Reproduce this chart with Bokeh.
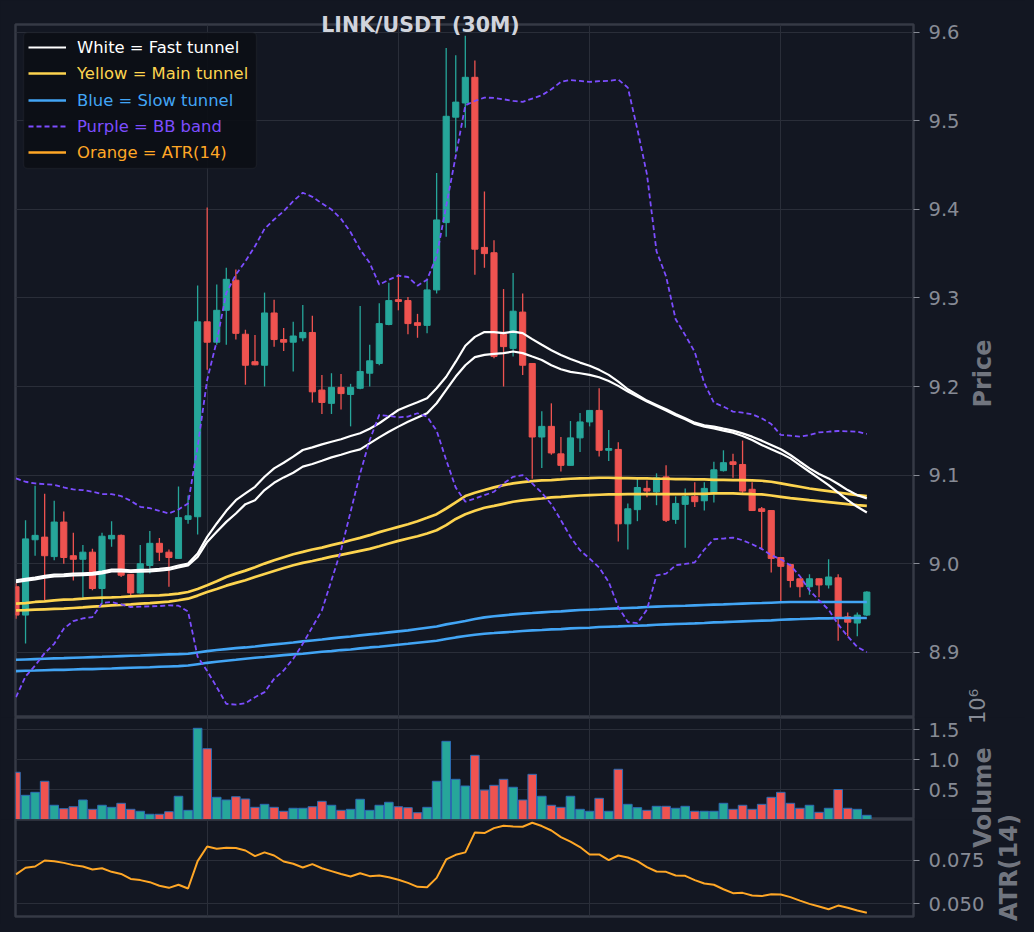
import math
from bokeh.plotting import figure
from bokeh.layouts import column
from bokeh.models import (ColumnDataSource, Range1d, FixedTicker, PrintfTickFormatter,
                          Legend, LegendItem, BoxAnnotation, Label)
from bokeh.embed import file_html
from bokeh.resources import INLINE

# ---------------- data ----------------
bar_index = list(range(90))

opens = [8.974, 8.942, 9.027, 9.030, 9.008, 9.047, 9.009, 9.005, 9.013, 8.972,
         9.028, 9.032, 8.988, 8.967, 8.998, 9.023, 9.013, 9.006, 9.050, 9.053,
         9.273, 9.250, 9.286, 9.320, 9.259, 9.228, 9.224, 9.283, 9.253, 9.250,
         9.255, 9.261, 9.196, 9.181, 9.199, 9.191, 9.198, 9.215, 9.226, 9.270,
         9.298, 9.297, 9.272, 9.269, 9.309, 9.385, 9.504, 9.520, 9.549, 9.357,
         9.351, 9.259, 9.243, 9.284, 9.226, 9.143, 9.155, 9.124, 9.111, 9.142,
         9.160, 9.173, 9.128, 9.129, 9.045, 9.061, 9.085, 9.081, 9.098, 9.050,
         9.067, 9.076, 9.071, 9.079, 9.105, 9.115, 9.112, 9.084, 9.062, 9.060,
         9.007, 8.999, 8.983, 8.974, 8.983, 8.976, 8.984, 8.940, 8.933, 8.942]
highs = [8.978, 9.049, 9.088, 9.079, 9.071, 9.059, 9.035, 9.021, 9.017, 9.035,
         9.048, 9.033, 8.988, 9.021, 9.037, 9.029, 9.016, 9.087, 9.077, 9.314,
         9.402, 9.315, 9.334, 9.332, 9.264, 9.258, 9.306, 9.298, 9.266, 9.273,
         9.292, 9.280, 9.213, 9.215, 9.214, 9.203, 9.291, 9.247, 9.294, 9.317,
         9.327, 9.301, 9.282, 9.321, 9.441, 9.582, 9.574, 9.596, 9.568, 9.420,
         9.365, 9.310, 9.328, 9.305, 9.226, 9.172, 9.181, 9.143, 9.161, 9.170,
         9.173, 9.198, 9.151, 9.137, 9.068, 9.096, 9.094, 9.102, 9.111, 9.076,
         9.085, 9.092, 9.092, 9.115, 9.128, 9.124, 9.139, 9.092, 9.064, 9.060,
         9.007, 9.000, 8.983, 8.988, 8.983, 9.005, 8.988, 8.945, 8.945, 8.969]
lows = [8.938, 8.910, 9.009, 8.959, 9.004, 9.000, 8.981, 8.959, 8.970, 8.955,
        9.019, 8.985, 8.962, 8.966, 8.989, 9.003, 8.974, 9.006, 9.045, 9.033,
        9.219, 9.247, 9.247, 9.253, 9.202, 9.224, 9.200, 9.245, 9.240, 9.217,
        9.251, 9.182, 9.169, 9.169, 9.174, 9.155, 9.197, 9.200, 9.224, 9.269,
        9.286, 9.259, 9.255, 9.260, 9.305, 9.369, 9.464, 9.492, 9.326, 9.334,
        9.232, 9.200, 9.234, 9.213, 9.096, 9.108, 9.123, 9.104, 9.111, 9.126,
        9.155, 9.121, 9.116, 9.025, 9.016, 9.048, 9.075, 9.066, 9.047, 9.045,
        9.018, 9.064, 9.060, 9.069, 9.104, 9.097, 9.080, 9.060, 9.016, 8.990,
        8.958, 8.973, 8.962, 8.965, 8.962, 8.972, 8.913, 8.918, 8.918, 8.941]
closes = [8.942, 9.028, 9.032, 9.009, 9.047, 9.007, 9.005, 9.013, 8.972, 9.031,
          9.032, 8.987, 8.967, 9.000, 9.023, 9.013, 9.007, 9.052, 9.054, 9.273,
          9.250, 9.286, 9.321, 9.260, 9.224, 9.2245, 9.283, 9.253, 9.250, 9.257,
          9.261, 9.194, 9.182, 9.199, 9.192, 9.199, 9.217, 9.229, 9.271, 9.297,
          9.296, 9.271, 9.269, 9.309, 9.388, 9.505, 9.521, 9.549, 9.355, 9.350,
          9.234, 9.245, 9.285, 9.224, 9.143, 9.155, 9.125, 9.111, 9.142, 9.160,
          9.173, 9.128, 9.130, 9.045, 9.062, 9.086, 9.082, 9.097, 9.049, 9.068,
          9.076, 9.070, 9.085, 9.106, 9.114, 9.112, 9.082, 9.060, 9.059, 9.006,
          8.997, 8.981, 8.974, 8.983, 8.976, 8.985, 8.940, 8.934, 8.942, 8.968]

volume_millions = [0.787, 0.403, 0.453, 0.637, 0.237, 0.180, 0.213, 0.325, 0.170, 0.237,
                   0.203, 0.270, 0.170, 0.137, 0.087, 0.087, 0.130, 0.387, 0.153, 1.520,
                   1.180, 0.370, 0.325, 0.380, 0.342, 0.203, 0.253, 0.203, 0.137, 0.187,
                   0.187, 0.213, 0.303, 0.237, 0.153, 0.170, 0.337, 0.153, 0.237, 0.287,
                   0.213, 0.197, 0.113, 0.203, 0.637, 1.303, 0.670, 0.558, 1.070, 0.490,
                   0.570, 0.670, 0.537, 0.325, 0.753, 0.387, 0.237, 0.203, 0.387, 0.170,
                   0.137, 0.353, 0.137, 0.837, 0.253, 0.197, 0.153, 0.220, 0.220, 0.187,
                   0.220, 0.137, 0.137, 0.137, 0.270, 0.170, 0.237, 0.170, 0.253, 0.370,
                   0.453, 0.270, 0.187, 0.237, 0.120, 0.187, 0.500, 0.187, 0.170, 0.070]

atr14 = [0.0669, 0.0708, 0.0715, 0.0750, 0.0746, 0.0736, 0.0723, 0.0715, 0.0698, 0.0705,
         0.0684, 0.0672, 0.0643, 0.0636, 0.0624, 0.0603, 0.0591, 0.0609, 0.0587, 0.0746,
         0.0831, 0.0818, 0.0824, 0.0822, 0.0808, 0.0775, 0.0797, 0.0779, 0.0744, 0.0731,
         0.0709, 0.0729, 0.0705, 0.0688, 0.0671, 0.0657, 0.0676, 0.0659, 0.0663, 0.0653,
         0.0638, 0.0620, 0.0597, 0.0595, 0.0649, 0.0756, 0.0783, 0.0797, 0.0913, 0.0909,
         0.0938, 0.0952, 0.0948, 0.0946, 0.0969, 0.0950, 0.0924, 0.0886, 0.0859, 0.0828,
         0.0785, 0.0785, 0.0752, 0.0779, 0.0767, 0.0746, 0.0711, 0.0686, 0.0684, 0.0663,
         0.0661, 0.0636, 0.0616, 0.0609, 0.0583, 0.0560, 0.0562, 0.0547, 0.0543, 0.0554,
         0.0552, 0.0537, 0.0517, 0.0498, 0.0483, 0.0467, 0.0488, 0.0475, 0.0459, 0.0446]

fast_tunnel_a = [8.9813, 8.9828, 8.9843, 8.9862, 8.9877, 8.9880, 8.9888, 8.9892, 8.9896, 8.9911,
                 8.9933, 8.9933, 8.9926, 8.9930, 8.9933, 8.9941, 8.9952, 8.9979, 9.0001, 9.0114,
                 9.0303, 9.0454, 9.0597, 9.0717, 9.0793, 9.0868, 9.0981, 9.1076, 9.1140, 9.1208,
                 9.1283, 9.1313, 9.1347, 9.1377, 9.1404, 9.1441, 9.1472, 9.1524, 9.1585, 9.1660,
                 9.1735, 9.1781, 9.1822, 9.1867, 9.1980, 9.2110, 9.2280, 9.2460, 9.2560, 9.2614,
                 9.2614, 9.2603, 9.2620, 9.2603, 9.2535, 9.2471, 9.2410, 9.2355, 9.2310, 9.2270,
                 9.2235, 9.2188, 9.2131, 9.2056, 9.1969, 9.1905, 9.1841, 9.1792, 9.1743, 9.1690,
                 9.1641, 9.1592, 9.1562, 9.1547, 9.1524, 9.1502, 9.1471, 9.1434, 9.1389, 9.1340,
                 9.1291, 9.1227, 9.1151, 9.1076, 9.1012, 9.0963, 9.0899, 9.0831, 9.0774, 9.0737]
fast_tunnel_b = [8.9793, 8.9808, 8.9823, 8.9842, 8.9857, 8.9860, 8.9868, 8.9872, 8.9876, 8.9891,
                 8.9913, 8.9913, 8.9906, 8.9910, 8.9913, 8.9921, 8.9932, 8.9959, 8.9981, 9.0077,
                 9.0246, 9.0360, 9.0472, 9.0567, 9.0672, 9.0717, 9.0831, 9.0913, 9.0974, 9.1027,
                 9.1095, 9.1125, 9.1162, 9.1200, 9.1230, 9.1264, 9.1291, 9.1358, 9.1426, 9.1490,
                 9.1547, 9.1603, 9.1649, 9.1698, 9.1811, 9.1961, 9.2112, 9.2240, 9.2331, 9.2357,
                 9.2369, 9.2376, 9.2395, 9.2377, 9.2338, 9.2300, 9.2240, 9.2195, 9.2165, 9.2150,
                 9.2131, 9.2105, 9.2063, 9.2007, 9.1943, 9.1886, 9.1830, 9.1780, 9.1728, 9.1675,
                 9.1630, 9.1577, 9.1547, 9.1528, 9.1502, 9.1479, 9.1441, 9.1396, 9.1340, 9.1291,
                 9.1245, 9.1189, 9.1113, 9.1038, 9.0963, 9.0887, 9.0801, 9.0718, 9.0642, 9.0578]

main_tunnel_a = [8.9549, 8.9556, 8.9568, 8.9575, 8.9587, 8.9594, 8.9598, 8.9605, 8.9613, 8.9617,
                 8.9620, 8.9624, 8.9632, 8.9636, 8.9640, 8.9643, 8.9651, 8.9662, 8.9681, 8.9715,
                 8.9756, 8.9801, 8.9850, 8.9888, 8.9922, 8.9960, 9.0001, 9.0039, 9.0073, 9.0107,
                 9.0133, 9.0160, 9.0182, 9.0209, 9.0235, 9.0265, 9.0291, 9.0322, 9.0356, 9.0386,
                 9.0416, 9.0446, 9.0480, 9.0518, 9.0559, 9.0623, 9.0693, 9.0763, 9.0801, 9.0831,
                 9.0861, 9.0887, 9.0906, 9.0921, 9.0932, 9.0940, 9.0944, 9.0951, 9.0959, 9.0963,
                 9.0966, 9.0970, 9.0970, 9.0966, 9.0966, 9.0963, 9.0963, 9.0959, 9.0959, 9.0955,
                 9.0955, 9.0951, 9.0951, 9.0947, 9.0947, 9.0944, 9.0944, 9.0940, 9.0936, 9.0925,
                 9.0906, 9.0887, 9.0868, 9.0849, 9.0834, 9.0819, 9.0804, 9.0789, 9.0774, 9.0763]
main_tunnel_b = [8.9474, 8.9477, 8.9481, 8.9485, 8.9489, 8.9492, 8.9500, 8.9507, 8.9515, 8.9522,
                 8.9530, 8.9534, 8.9541, 8.9549, 8.9556, 8.9564, 8.9571, 8.9587, 8.9605, 8.9640,
                 8.9681, 8.9715, 8.9752, 8.9783, 8.9813, 8.9850, 8.9884, 8.9918, 8.9952, 8.9982,
                 9.0009, 9.0031, 9.0054, 9.0080, 9.0099, 9.0122, 9.0145, 9.0167, 9.0197, 9.0228,
                 9.0258, 9.0284, 9.0310, 9.0341, 9.0378, 9.0435, 9.0505, 9.0559, 9.0597, 9.0631,
                 9.0653, 9.0676, 9.0699, 9.0714, 9.0725, 9.0736, 9.0748, 9.0755, 9.0763, 9.0770,
                 9.0774, 9.0778, 9.0782, 9.0782, 9.0785, 9.0785, 9.0785, 9.0785, 9.0785, 9.0785,
                 9.0785, 9.0789, 9.0789, 9.0793, 9.0793, 9.0793, 9.0789, 9.0785, 9.0782, 9.0770,
                 9.0755, 9.0740, 9.0729, 9.0717, 9.0706, 9.0695, 9.0684, 9.0672, 9.0661, 9.0653]

slow_tunnel_a = [8.8915, 8.8919, 8.8923, 8.8927, 8.8931, 8.8934, 8.8938, 8.8942, 8.8946, 8.8949,
                 8.8953, 8.8957, 8.8961, 8.8964, 8.8968, 8.8972, 8.8976, 8.8979, 8.8983, 8.8998,
                 8.9013, 8.9025, 8.9036, 8.9047, 8.9055, 8.9066, 8.9078, 8.9089, 8.9100, 8.9111,
                 8.9123, 8.9134, 8.9145, 8.9157, 8.9168, 8.9179, 8.9191, 8.9202, 8.9213, 8.9225,
                 8.9236, 8.9247, 8.9262, 8.9277, 8.9292, 8.9315, 8.9334, 8.9353, 8.9375, 8.9394,
                 8.9406, 8.9417, 8.9428, 8.9436, 8.9443, 8.9451, 8.9458, 8.9462, 8.9470, 8.9477,
                 8.9481, 8.9485, 8.9492, 8.9496, 8.9500, 8.9504, 8.9511, 8.9515, 8.9519, 8.9523,
                 8.9526, 8.9530, 8.9534, 8.9538, 8.9541, 8.9545, 8.9549, 8.9553, 8.9556, 8.9560,
                 8.9564, 8.9568, 8.9568, 8.9568, 8.9568, 8.9568, 8.9568, 8.9568, 8.9568, 8.9568]
slow_tunnel_b = [8.8787, 8.8791, 8.8794, 8.8798, 8.8802, 8.8802, 8.8806, 8.8810, 8.8810, 8.8814,
                 8.8817, 8.8821, 8.8825, 8.8829, 8.8832, 8.8836, 8.8840, 8.8844, 8.8851, 8.8866,
                 8.8881, 8.8893, 8.8904, 8.8915, 8.8927, 8.8938, 8.8946, 8.8957, 8.8968, 8.8976,
                 8.8983, 8.8995, 8.9006, 8.9013, 8.9025, 8.9032, 8.9044, 8.9055, 8.9063, 8.9074,
                 8.9085, 8.9096, 8.9108, 8.9119, 8.9130, 8.9149, 8.9168, 8.9183, 8.9198, 8.9210,
                 8.9217, 8.9225, 8.9232, 8.9240, 8.9247, 8.9251, 8.9259, 8.9262, 8.9270, 8.9274,
                 8.9277, 8.9285, 8.9289, 8.9292, 8.9296, 8.9300, 8.9304, 8.9311, 8.9315, 8.9319,
                 8.9323, 8.9326, 8.9330, 8.9338, 8.9341, 8.9345, 8.9349, 8.9353, 8.9357, 8.9360,
                 8.9368, 8.9372, 8.9375, 8.9379, 8.9383, 8.9383, 8.9387, 8.9387, 8.9387, 8.9387]

bb_upper = [9.0963, 9.0925, 9.0906, 9.0898, 9.0891, 9.0861, 9.0838, 9.0831, 9.0812, 9.0785,
            9.0785, 9.0763, 9.0710, 9.0642, 9.0627, 9.0597, 9.0567, 9.0612, 9.0680, 9.1321,
            9.2075, 9.2513, 9.3055, 9.3262, 9.3413, 9.3583, 9.3780, 9.3885, 9.3979, 9.4092,
            9.4187, 9.4141, 9.4066, 9.3998, 9.3892, 9.3741, 9.3545, 9.3395, 9.3149, 9.3206,
            9.3251, 9.3236, 9.3138, 9.3206, 9.3470, 9.4036, 9.4601, 9.5174, 9.5223, 9.5261,
            9.5257, 9.5242, 9.5223, 9.5212, 9.5250, 9.5287, 9.5355, 9.5438, 9.5460, 9.5449,
            9.5438, 9.5446, 9.5449, 9.5465, 9.5374, 9.4903, 9.4394, 9.3526, 9.3243, 9.2760,
            9.2580, 9.2390, 9.2037, 9.1818, 9.1773, 9.1717, 9.1705, 9.1686, 9.1641, 9.1577,
            9.1453, 9.1445, 9.1434, 9.1453, 9.1483, 9.1490, 9.1498, 9.1494, 9.1490, 9.1464]
bb_lower = [8.8493, 8.8727, 8.8851, 8.8991, 8.9096, 8.9266, 8.9353, 8.9383, 8.9398, 8.9556,
            8.9568, 8.9541, 8.9511, 8.9515, 8.9519, 8.9522, 8.9530, 8.9526, 8.9460, 8.8950,
            8.8790, 8.8606, 8.8418, 8.8410, 8.8425, 8.8493, 8.8550, 8.8700, 8.8795, 8.8927,
            8.9096, 8.9285, 8.9473, 8.9813, 9.0152, 9.0586, 9.1019, 9.1396, 9.1679, 9.1668,
            9.1652, 9.1660, 9.1698, 9.1660, 9.1502, 9.1170, 9.0859, 9.0699, 9.0736, 9.0774,
            9.0812, 9.0906, 9.0981, 9.1000, 9.0906, 9.0800, 9.0672, 9.0491, 9.0303, 9.0152,
            9.0058, 8.9956, 8.9794, 8.9511, 8.9341, 8.9330, 8.9481, 8.9869, 8.9888, 8.9982,
            8.9997, 9.0016, 9.0160, 9.0276, 9.0284, 9.0295, 9.0265, 9.0220, 9.0167, 9.0096,
            9.0050, 8.9982, 8.9858, 8.9700, 8.9587, 8.9481, 8.9315, 8.9180, 8.9059, 8.9002]

price_ticks = [8.9, 9.0, 9.1, 9.2, 9.3, 9.4, 9.5, 9.6]
volume_ticks = [0.5, 1.0, 1.5]
atr_ticks = [0.050, 0.075]
time_grid_ticks = [20, 40, 60, 80]

# ---------------- styling ----------------
BG = "#131722"
GRID = "#2a2e39"
SPINE = "#363a45"
TICK = "#878b95"
AXLAB = "#71757f"
GREEN = "#26a69a"
RED = "#ef5350"
WHITE = "#ffffff"
YELLOW = "#fdd44f"
BLUE = "#42a5f5"
PURPLE = "#7c4dff"
ORANGE = "#ffa726"
FONT = "DejaVu Sans"

x_range = Range1d(-0.05, 93.88)


def make_panel(frame_h, y_range, top_border, bottom_border, ticks, fmt):
    f = figure(x_range=x_range, y_range=y_range, frame_width=898, frame_height=frame_h,
               output_backend="svg", toolbar_location=None,
               x_axis_location=None, y_axis_location="right",
               min_border_left=15, min_border_right=112,
               min_border_top=top_border, min_border_bottom=bottom_border,
               background_fill_color=BG, border_fill_color=BG,
               outline_line_color=SPINE, outline_line_width=2.5)
    f.xgrid.ticker = FixedTicker(ticks=time_grid_ticks)
    f.ygrid.ticker = FixedTicker(ticks=ticks)
    f.xgrid.grid_line_color = GRID
    f.ygrid.grid_line_color = GRID
    ax = f.yaxis[0]
    ax.ticker = FixedTicker(ticks=ticks)
    ax.formatter = PrintfTickFormatter(format=fmt)
    ax.axis_line_color = None
    ax.major_tick_line_color = TICK
    ax.major_tick_line_width = 1.2
    ax.major_tick_out = 6
    ax.major_tick_in = 0
    ax.minor_tick_line_color = None
    ax.major_label_standoff = 9
    ax.major_label_text_font = FONT
    ax.major_label_text_font_size = "19.5px"
    ax.major_label_text_color = TICK
    return f


def text_overlay(text, left, top, w, h, size, color, style="normal", angle=0.0):
    """A small transparent svg figure that carries one text at an exact page spot."""
    f = figure(width=w, height=h, x_range=Range1d(0, 1), y_range=Range1d(0, 1),
               output_backend="svg", toolbar_location=None,
               x_axis_location=None, y_axis_location=None, min_border=0,
               background_fill_alpha=0, border_fill_alpha=0, outline_line_color=None)
    f.grid.visible = False
    f.add_layout(Label(x=0.5, y=0.5, text=text, angle=angle, text_align="center",
                       text_baseline="middle", text_font=FONT, text_font_style=style,
                       text_font_size=size, text_color=color))
    f.styles = {"position": "absolute", "left": f"{left}px", "top": f"{top}px", "z-index": "5"}
    return f


# ---------------- price panel ----------------
p = make_panel(693, Range1d(8.8264, 9.6086), 24, 0, price_ticks, "%.1f")

up = [c >= o for o, c in zip(opens, closes)]


def subset(mask):
    sel = [i for i, m in enumerate(mask) if m]
    return ColumnDataSource(dict(
        x=[bar_index[i] for i in sel],
        high=[highs[i] for i in sel],
        low=[lows[i] for i in sel],
        top=[max(opens[i], closes[i]) for i in sel],
        bottom=[min(opens[i], closes[i]) for i in sel],
    ))


for mask, col in ((up, GREEN), ([not u for u in up], RED)):
    src = subset(mask)
    p.segment(x0="x", y0="low", x1="x", y1="high", source=src, line_color=col, line_width=1.3)
    p.vbar(x="x", width=0.64, top="top", bottom="bottom", source=src,
           fill_color=col, line_color=col, line_width=1)

r_slow = p.line(bar_index, slow_tunnel_a, line_color=BLUE, line_width=2.6)
p.line(bar_index, slow_tunnel_b, line_color=BLUE, line_width=2.6)
r_main = p.line(bar_index, main_tunnel_a, line_color=YELLOW, line_width=2.7)
p.line(bar_index, main_tunnel_b, line_color=YELLOW, line_width=2.7)
r_fast = p.line(bar_index, fast_tunnel_a, line_color=WHITE, line_width=2.2)
p.line(bar_index, fast_tunnel_b, line_color=WHITE, line_width=2.2)
r_bb = p.line(bar_index, bb_upper, line_color=PURPLE, line_width=1.8, line_dash="5 3")
p.line(bar_index, bb_lower, line_color=PURPLE, line_width=1.8, line_dash="5 3")
# ATR drawn on the price scale only to give the legend its key (it falls outside the view)
r_atr_key = p.line(bar_index, atr14, line_color=ORANGE, line_width=2.6)

# legend box + coloured entries
box = BoxAnnotation(left=0.79, right=25.16, top=9.5995, bottom=9.4461,
                    fill_color="#0c0f16", fill_alpha=0.93,
                    line_color="#2f333c", line_width=1.5)
try:
    box.border_radius = 4
except Exception:
    pass
p.add_layout(box)

legend_rows = [("White = Fast tunnel", r_fast, WHITE, 660),
               ("Yellow = Main tunnel", r_main, YELLOW, 634),
               ("Blue = Slow tunnel", r_slow, BLUE, 607),
               ("Purple = BB band", r_bb, PURPLE, 581),
               ("Orange = ATR(14)", r_atr_key, ORANGE, 555)]
for text, rend, col, bottom in legend_rows:
    leg = Legend(items=[LegendItem(label=text, renderers=[rend])], location=(13, bottom),
                 orientation="vertical", padding=0, margin=0, spacing=0,
                 glyph_width=38, glyph_height=20, label_height=20, label_standoff=11,
                 label_text_font=FONT, label_text_font_size="16.4px", label_text_color=col,
                 background_fill_alpha=0, border_line_alpha=0)
    p.add_layout(leg, "center")

# ---------------- volume panel ----------------
v = make_panel(102, Range1d(0, 1.7), 0, 0, volume_ticks, "%.1f")
vol_colors = [GREEN if u else RED for u in up]
v.vbar(x=bar_index, top=volume_millions, bottom=0, width=0.9,
       fill_color=vol_colors, line_color="#2c6cb4", line_width=1)

# ---------------- ATR panel ----------------
a = make_panel(97, Range1d(0.04246, 0.0988), 0, 8, atr_ticks, "%.3f")
a.line(bar_index, atr14, line_color=ORANGE, line_width=2)

layout = column(p, v, a, spacing=0)

# title and axis titles placed at their exact page spots (some straddle panel borders)
t_title = text_overlay("LINK/USDT (30M)", 290, 8, 260, 32, "20.5px", "#d1d4dc", "bold")
t_price = text_overlay("Price", 962, 318, 40, 110, "24px", AXLAB, "bold", math.pi / 2)
t_exp = text_overlay("10⁶", 957, 680, 40, 52, "21px", TICK, "normal", math.pi / 2)
t_vol = text_overlay("Volume", 962, 735, 40, 124, "24px", AXLAB, "bold", math.pi / 2)
t_atr = text_overlay("ATR(14)", 988, 806, 40, 122, "24px", AXLAB, "bold", math.pi / 2)

html = file_html([layout, t_title, t_price, t_exp, t_vol, t_atr], INLINE, title="LINK/USDT (30M)")
html = html.replace("</head>", "<style>html,body{background:#131722;overflow:hidden;}</style></head>", 1)
open("out.html", "w").write(html)
